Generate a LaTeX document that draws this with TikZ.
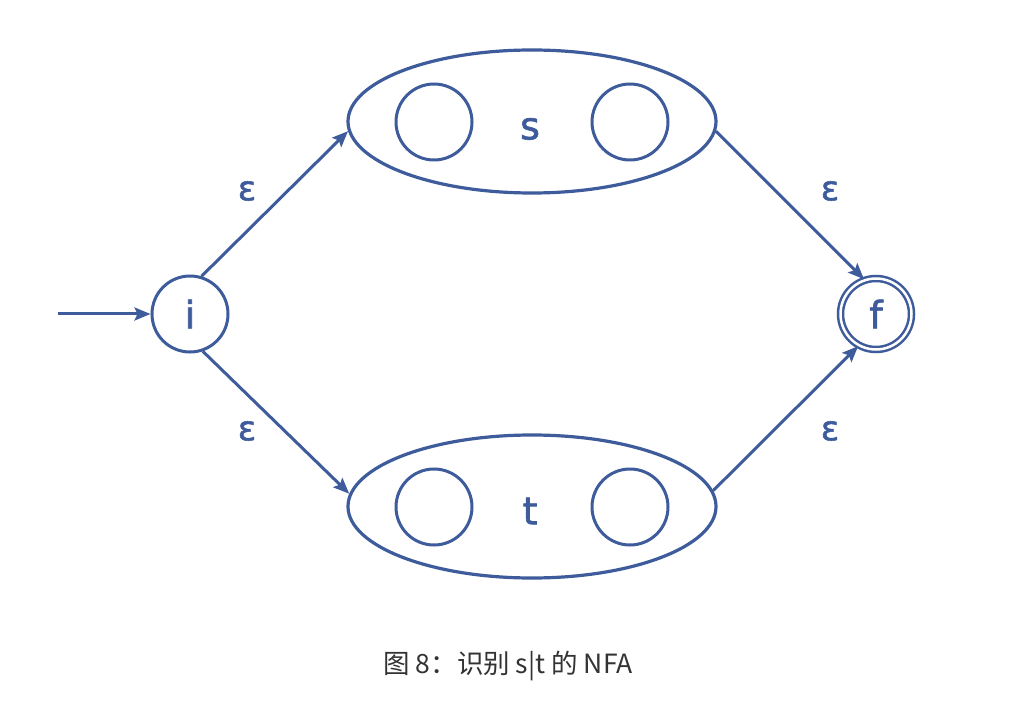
\documentclass[tikz,border=0pt]{standalone}
\usepackage{fontspec}
\newfontfamily\cjk{Noto Sans CJK SC}
\newfontfamily\lblfont[FakeBold=1.6]{DejaVu Sans}
\usetikzlibrary{shapes.geometric,arrows.meta}
\definecolor{nfablue}{HTML}{3E5B9B}
\definecolor{captext}{HTML}{333333}
\tikzset{
  statec/.style={circle,draw=nfablue,line width=3pt,minimum size=76pt,inner sep=0pt,
    text=nfablue,font=\lblfont\fontsize{38}{46}\selectfont},
  blob/.style={ellipse,draw=nfablue,line width=3.2pt,minimum width=368pt,minimum height=143pt,inner sep=0pt},
  lbl/.style={text=nfablue,font=\lblfont\fontsize{38}{46}\selectfont,inner sep=0pt},
  eps/.style={text=nfablue,font=\lblfont\fontsize{34}{42}\selectfont,inner sep=0pt},
  arr/.style={draw=nfablue,line width=3pt,-{Stealth[length=16pt,width=13pt,inset=3pt]}},
}
\begin{document}
\begin{tikzpicture}[x=1pt,y=-1pt]
\useasboundingbox[fill=white] (0,0) rectangle (1012,703);
% ellipses
\node[blob] (top) at (532,121.5) {};
\node[blob] (bot) at (532,506.5) {};
% inner states
\node[statec] (s1) at (434,122) {};
\node[statec] (s2) at (630,122) {};
\node[statec] (t1) at (434,507) {};
\node[statec] (t2) at (630,507) {};
\node[lbl] (sl) at (530,129) {s};
\node[lbl] (tl) at (530,511) {t};
% start and final
\node[statec] (i) at (190,314) {i};
\node[statec,minimum size=71pt,line width=2.5pt,double=white,double distance=2.5pt] (f) at (876,314) {f};
\coordinate (start) at (58,314);
% arrows
\draw[arr] (start) -- (i.west);
\draw[arr] (i.73) -- (top.183);
\draw[arr] (i.-71) -- (bot.176);
\draw[arr] (top.-3) -- (f.109);
\draw[arr] (bot.5) -- (f.241);
% epsilon labels
\node[eps] (e1) at (247,191) {ε};
\node[eps] (e2) at (247,431) {ε};
\node[eps] (e3) at (830,191) {ε};
\node[eps] (e4) at (830,431) {ε};
% caption
\node[text=captext,font=\cjk\fontsize{26.5}{30}\selectfont,inner sep=0pt] (cap) at (508,666) {图 8：识别 s|t 的 NFA};
\end{tikzpicture}
\end{document}
